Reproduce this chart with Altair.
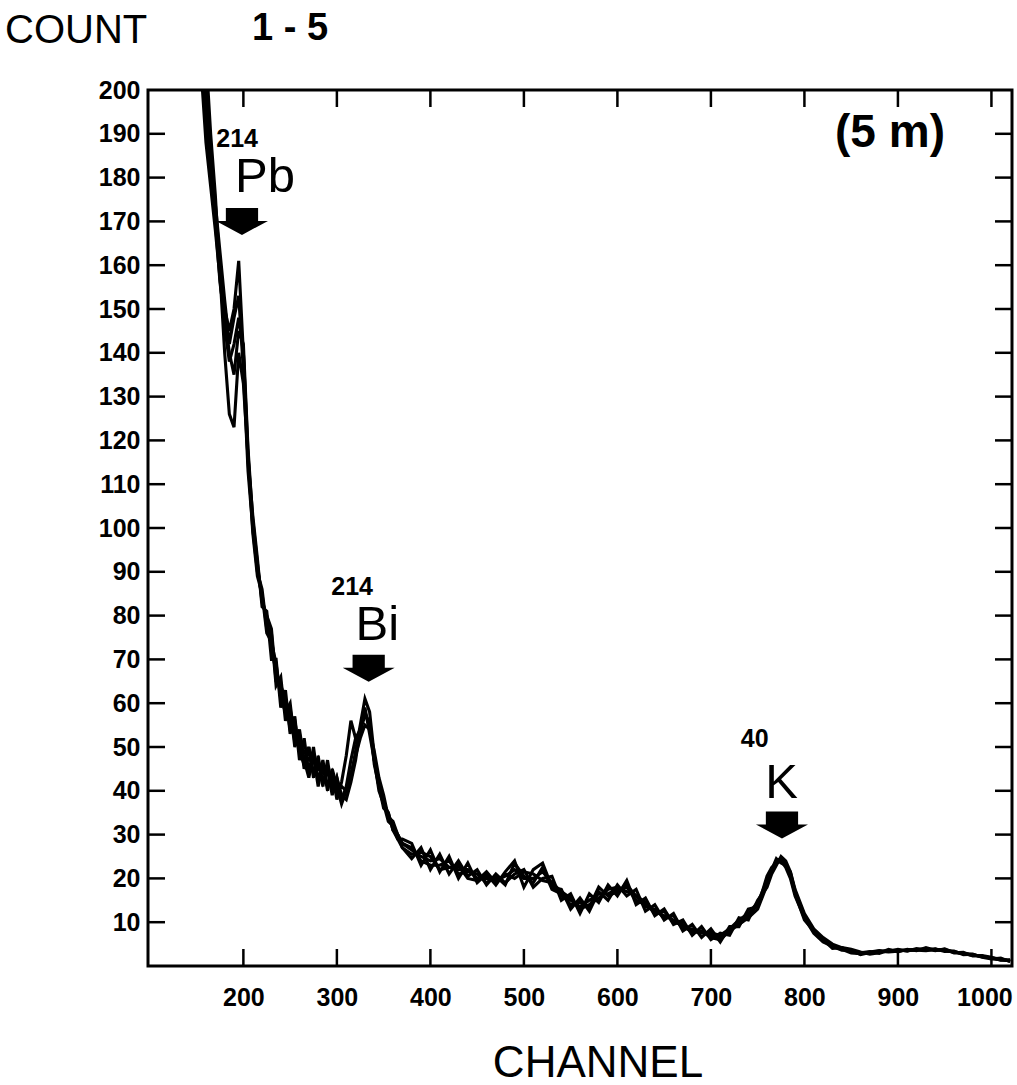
import altair as alt
import pandas as pd

channel = [150, 155, 160, 165, 170, 175, 180, 185, 190, 195, 200,
           205, 210, 215, 220, 225, 230, 235, 240, 245, 250,
           255, 260, 265, 270, 275, 280, 285, 290, 295, 300,
           305, 310, 315, 320, 325, 330, 335, 340, 345, 350,
           355, 360, 365, 370,
           380, 390, 400, 410, 420, 430, 440, 450, 460, 470,
           480, 490, 500, 510, 520, 530, 540, 550, 560, 570,
           580, 590, 600, 610, 620, 630, 640, 650, 660, 670,
           680, 690, 700, 710, 720, 730, 740, 750, 760,
           765, 770, 775, 780, 785, 790,
           800, 810, 820, 830, 840, 850, 860, 870, 880, 890, 900,
           910, 920, 930, 940, 950, 960, 970, 980, 990, 1000, 1010, 1020]

run1 = [230, 212, 195, 182, 170, 160, 150, 145, 150, 161, 140,
        115, 101, 91, 84, 79, 73, 67, 63, 60, 56,
        54, 50, 49, 47, 47, 45, 44, 44, 42, 40,
        41, 40, 43, 49, 55, 61, 58, 48, 42, 38,
        34, 32, 30, 28,
        26.5, 25, 24, 24.5, 22.5, 22, 22, 20, 20, 19.5,
        20.5, 22, 20, 20, 21.5, 19, 16, 15, 13.5, 15,
        16.5, 16.5, 17.5, 18, 15, 14, 12.5, 11.5, 10.5, 9,
        8, 8, 7, 6.5, 8, 10, 11.5, 14, 19,
        21.5, 24, 24.5, 23.5, 21, 17,
        11.5, 8, 6, 4.5, 4, 3.5, 3, 3, 3.2, 3.5, 3.5,
        3.6, 3.8, 3.8, 3.8, 3.5, 3.2, 2.8, 2.5, 2.2, 1.8, 1.5, 1.2]

run2 = [240, 220, 200, 186, 174, 163, 152, 142, 148, 153, 136,
        113, 100, 90, 86, 77, 76, 64, 66, 56, 59,
        50, 53, 45, 50, 43, 48, 41, 47, 40, 43,
        38, 41, 47, 52, 54, 57, 56, 46, 41, 36,
        35, 31, 29, 29,
        28, 23, 26.5, 21.5, 25, 20, 23.5, 19, 21, 18.5,
        21.5, 24, 18, 22, 23.5, 18, 17.5, 13, 15.5, 12.5,
        17, 15, 18.5, 16, 17.5, 12.5, 14, 10.5, 12, 8,
        9.5, 6.5, 8.5, 5.5, 9, 9, 13, 13.5, 20.5,
        22.5, 23.5, 24, 22.5, 20, 16,
        11, 7.5, 5.5, 4.5, 3.8, 3, 2.8, 3.2, 3.5, 3.3, 3.8,
        3.4, 4, 3.6, 3.9, 3.3, 3.4, 2.6, 2.7, 2, 1.6, 1.8, 1.0]

run3 = [250, 228, 208, 190, 176, 158, 140, 126, 123, 140, 133,
        116, 103, 93, 82, 81, 70, 70, 59, 63, 53,
        57, 47, 52, 44, 50, 42, 47, 41, 44, 38,
        42, 48, 56, 52, 53, 59, 53, 47, 40, 37,
        33, 32, 29, 27,
        24.5, 27, 22, 25.5, 21, 24, 20.5, 22, 18.5, 21,
        19, 21, 22, 18, 20, 20.5, 15, 16.5, 12, 16.5,
        14.5, 18.5, 16, 19.5, 14, 15.5, 11.5, 13, 9.5, 10.5,
        7, 9, 6, 7.5, 7, 11, 10.5, 15, 18,
        21, 23, 25, 24, 21.5, 17.5,
        12, 8.5, 6.5, 5, 4.2, 3.8, 3.2, 2.7, 3, 3.8, 3.2,
        3.8, 3.5, 4.2, 3.6, 3.8, 3, 3.1, 2.3, 2.4, 2, 1.3, 1.4]

run4 = [222, 204, 188, 178, 168, 157, 146, 138, 142, 148, 140,
        117, 99, 89, 85, 76, 74, 69, 61, 58, 60,
        51, 54, 47, 43, 48, 41, 46, 40, 45, 41,
        37, 40, 44, 48, 52, 55, 54, 49, 43, 39,
        34, 33, 30, 28,
        27, 24, 23, 23, 24, 21, 21.5, 21, 19, 20.5,
        18.5, 23.5, 20.5, 19, 22.5, 17.5, 16.5, 14, 14.5, 13.5,
        18, 16, 17, 18.5, 16, 13.5, 13, 11, 11.5, 8.5,
        8.5, 7.5, 7.5, 7, 8.5, 10.5, 12, 14.5, 19.5,
        22, 24.5, 23.5, 23, 20.5, 16.5,
        10.5, 8, 6, 4, 4.2, 3.3, 3, 3.3, 2.9, 3.6, 3.6,
        3.5, 3.7, 3.9, 3.5, 3.9, 3.1, 2.9, 2.6, 2.1, 1.9, 1.6, 1.1]

run5 = [235, 215, 196, 180, 170, 156, 148, 140, 135, 145, 142,
        118, 102, 92, 83, 80, 77, 65, 64, 61, 54,
        56, 49, 46, 50, 44, 47, 42, 45, 39, 43,
        39, 38, 42, 47, 54, 58, 55, 47, 41, 37,
        35, 31, 30, 27,
        25.5, 26, 25, 22, 22.5, 23, 20, 19.5, 21.5, 19,
        21, 20, 21.5, 21, 19.5, 19, 17, 15.5, 13, 14,
        15.5, 17.5, 18, 17, 16, 14.5, 12, 12.5, 10, 9.5,
        7.5, 8, 6.5, 6, 8, 9.5, 11, 13, 18.5,
        21.5, 23.5, 24.5, 23, 21.5, 17,
        11.5, 8, 6, 4.5, 3.6, 3.6, 2.6, 3.1, 3.4, 3.2, 3.4,
        3.7, 3.6, 3.5, 3.8, 3.6, 3.3, 2.8, 2.4, 2.3, 1.7, 1.4, 1.3]

runs = {"1": run1, "2": run2, "3": run3, "4": run4, "5": run5}

x_ticks = [200, 300, 400, 500, 600, 700, 800, 900, 1000]
y_ticks = [10, 20, 30, 40, 50, 60, 70, 80, 90, 100,
           110, 120, 130, 140, 150, 160, 170, 180, 190]
y_labels = y_ticks + [200]

# isotope annotations (data coordinates)
iso_names = ["Pb", "Bi", "K"]
iso_mass = ["214", "214", "40"]
iso_name_ch = [191, 320, 758]
iso_name_ct = [176.7, 74.5, 38.4]
iso_mass_ch = [171, 294, 732]
iso_mass_ct = [187, 84.8, 50]
arrow_ch = [198.5, 334, 776]
arrow_ct = [170, 68, 32.2]

rows = []
for r, vals in runs.items():
    for c, v in zip(channel, vals):
        rows.append({"channel": c, "count": v, "run": r})
df = pd.DataFrame(rows)

W, H = 864, 876
FONT = "Liberation Sans"

xscale = alt.Scale(domain=[98, 1022], nice=False, zero=False)
yscale = alt.Scale(domain=[0, 200], nice=False, zero=False)

x_axis = alt.Axis(values=x_ticks, format="d", domain=False, ticks=False, tickSize=0, grid=False,
                  labelFont=FONT, labelFontSize=25, labelFontWeight="bold",
                  labelColor="black", labelPadding=19, title=None,
                  labelOffset=alt.ExprRef(expr="datum.value == 1000 ? -7 : 0"))
y_axis = alt.Axis(values=y_labels, format="d", domain=False, ticks=False, tickSize=0, grid=False,
                  labelFont=FONT, labelFontSize=25, labelFontWeight="bold",
                  labelColor="black", labelPadding=8, title=None)

lines = alt.Chart(df).mark_line(clip=True, color="black", strokeWidth=3.1).encode(
    x=alt.X("channel:Q", scale=xscale, axis=x_axis),
    y=alt.Y("count:Q", scale=yscale, axis=y_axis),
    detail="run:N",
)

xt = pd.DataFrame({"v": x_ticks})
yt = pd.DataFrame({"v": y_ticks})
TL = 17
xb = alt.Chart(xt).mark_rule(color="black", strokeWidth=2.5).encode(
    x=alt.X("v:Q", scale=xscale, axis=x_axis), y=alt.value(H), y2=alt.value(H - TL))
xtop = alt.Chart(xt).mark_rule(color="black", strokeWidth=2.5).encode(
    x=alt.X("v:Q", scale=xscale, axis=x_axis), y=alt.value(0), y2=alt.value(TL))
yl = alt.Chart(yt).mark_rule(color="black", strokeWidth=2.5).encode(
    y=alt.Y("v:Q", scale=yscale, axis=y_axis), x=alt.value(0), x2=alt.value(TL))
yr = alt.Chart(yt).mark_rule(color="black", strokeWidth=2.5).encode(
    y=alt.Y("v:Q", scale=yscale, axis=y_axis), x=alt.value(W), x2=alt.value(W - TL))

names_df = pd.DataFrame({"t": iso_names, "channel": iso_name_ch, "count": iso_name_ct})
mass_df = pd.DataFrame({"t": iso_mass, "channel": iso_mass_ch, "count": iso_mass_ct})
arrow_df = pd.DataFrame({"channel": arrow_ch, "count": arrow_ct})

names = alt.Chart(names_df).mark_text(font=FONT, fontSize=49, align="left",
                                      baseline="alphabetic", color="black").encode(
    x=alt.X("channel:Q", scale=xscale, axis=x_axis),
    y=alt.Y("count:Q", scale=yscale, axis=y_axis), text="t:N")
masses = alt.Chart(mass_df).mark_text(font=FONT, fontSize=25, fontWeight="bold", align="left",
                                      baseline="alphabetic", color="black").encode(
    x=alt.X("channel:Q", scale=xscale, axis=x_axis),
    y=alt.Y("count:Q", scale=yscale, axis=y_axis), text="t:N")

ARROW = "M-0.62,-0.52L0.62,-0.52L0.62,-0.02L1,-0.02L0,0.52L-1,-0.02L-0.62,-0.02Z"
arrows = alt.Chart(arrow_df).mark_point(shape=ARROW, filled=True, color="black",
                                        size=2704, opacity=1, strokeWidth=0).encode(
    x=alt.X("channel:Q", scale=xscale, axis=x_axis),
    y=alt.Y("count:Q", scale=yscale, axis=y_axis))

depth = alt.Chart(pd.DataFrame({"t": ["(5 m)"]})).mark_text(
    font=FONT, fontSize=46, fontWeight="bold", align="center", baseline="alphabetic",
    color="black").encode(x=alt.value(742), y=alt.value(57), text="t:N")

count_title = alt.Chart(pd.DataFrame({"t": ["COUNT"]})).mark_text(
    font=FONT, fontSize=40, align="left", baseline="alphabetic",
    color="black").encode(x=alt.value(-143), y=alt.value(-47), text="t:N")
run_title = alt.Chart(pd.DataFrame({"t": ["1 - 5"]})).mark_text(
    font=FONT, fontSize=38, fontWeight="bold", align="left", baseline="alphabetic",
    color="black").encode(x=alt.value(104), y=alt.value(-50), text="t:N")
chan_title = alt.Chart(pd.DataFrame({"t": ["CHANNEL"]})).mark_text(
    font=FONT, fontSize=44, align="center", baseline="alphabetic",
    color="black").encode(x=alt.value(450), y=alt.value(987), text="t:N")

chart = alt.layer(
    lines, xb, xtop, yl, yr, arrows, names, masses, depth,
    count_title, run_title, chan_title
).properties(
    width=W, height=H,
    autosize=alt.AutoSizeParams(type="none"),
    padding={"left": 148, "top": 90, "right": 5, "bottom": 119},
    background="white",
).configure_view(stroke="black", strokeWidth=3)

chart.save("out.html", embed_options={"renderer": "svg", "actions": False})
